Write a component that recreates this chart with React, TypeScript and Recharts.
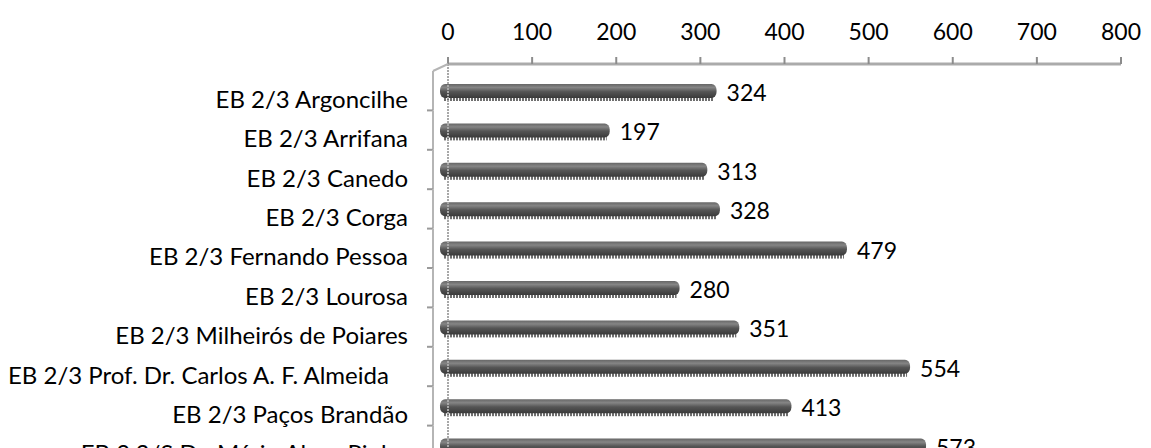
import { BarChart, Bar, XAxis, YAxis, LabelList } from "recharts";

const categories = [
  "EB 2/3 Argoncilhe",
  "EB 2/3 Arrifana",
  "EB 2/3 Canedo",
  "EB 2/3 Corga",
  "EB 2/3 Fernando Pessoa",
  "EB 2/3 Lourosa",
  "EB 2/3 Milheirós de Poiares",
  "EB 2/3 Prof. Dr. Carlos A. F. Almeida",
  "EB 2/3 Paços Brandão",
  "EB 2,3/S Dr. Mário Alves Pinho",
];
const values = [324, 197, 313, 328, 479, 280, 351, 554, 413, 573];
const xTicks = [0, 100, 200, 300, 400, 500, 600, 700, 800];

const data = categories.map((name, i) => ({ name, value: values[i] }));

const W = 1151;
const H = 480;
const PLOT_LEFT = 448;
const PLOT_TOP = 64;
const PLOT_H = H - PLOT_TOP - 22;
const BAND = PLOT_H / categories.length;
// offset of the front plane (3D look)
const DX = -8;
const DY = 7;
const FONT = "Lato, 'Open Sans', sans-serif";
const NUM_SIZE = 23;
const CAT_SIZE = 24;

function CylinderBar(props: any) {
  const { x, y, width, height } = props;
  if (!width || width <= 0) return null;
  const bx = x + DX;
  const by = y + DY;
  const bw = width + 4;
  return (
    <g>
      <rect x={bx + 3} y={by + height - 2} width={bw - 6} height={5} fill="url(#dotEdge)" />
      <rect x={bx} y={by} width={bw} height={height} rx={5} ry={6} fill="url(#barFill)" />
    </g>
  );
}

function ValueLabel(props: any) {
  const { x, y, width, height, value } = props;
  return (
    <text
      x={x + width + DX + 4 + 10}
      y={y + height / 2 + DY + 10}
      textAnchor="start"
      fontFamily={FONT}
      fontSize={NUM_SIZE}
      fill="#000"
    >
      {value}
    </text>
  );
}

function ValueTick(props: any) {
  const { x, payload } = props;
  return (
    <g>
      <line x1={x} x2={x} y1={PLOT_TOP - 7} y2={PLOT_TOP} stroke="#8c8c8c" strokeWidth={2} />
      <text x={x} y={40} textAnchor="middle" fontFamily={FONT} fontSize={NUM_SIZE} fill="#000">
        {payload.value}
      </text>
    </g>
  );
}

function CategoryTick(props: any) {
  const { y, payload, index } = props;
  const cy = y + DY;
  const label = String(payload.value);
  const wide = label.length > 32;
  const frontX = 433;
  return (
    <g>
      <line x1={frontX} x2={frontX} y1={cy - BAND / 2} y2={cy + BAND / 2} stroke="#b5b5b5" strokeWidth={2} />
      <line x1={frontX - 6} x2={frontX} y1={cy + BAND / 2} y2={cy + BAND / 2} stroke="#9a9a9a" strokeWidth={2} />
      {index === 0 && (
        <line x1={frontX} y1={cy - BAND / 2} x2={PLOT_LEFT} y2={PLOT_TOP} stroke="#b5b5b5" strokeWidth={2} />
      )}
      <text
        x={wide ? 8 : 408}
        y={cy + 17}
        textAnchor={wide ? "start" : "end"}
        fontFamily={FONT}
        fontSize={CAT_SIZE}
        fill="#000"
      >
        {label}
      </text>
    </g>
  );
}

export default function App() {
  return (
    <div
      style={{
        position: "fixed",
        top: 0,
        left: 0,
        width: W,
        height: 448,
        overflow: "hidden",
        background: "#fff",
      }}
    >
      <BarChart
        width={W}
        height={H}
        data={data}
        layout="vertical"
        margin={{ top: 0, right: 30, left: 0, bottom: 22 }}
      >
        <defs>
          <linearGradient id="barFill" x1="0" y1="0" x2="0" y2="1">
            <stop offset="0%" stopColor="#666" />
            <stop offset="25%" stopColor="#858585" />
            <stop offset="55%" stopColor="#555" />
            <stop offset="100%" stopColor="#3a3a3a" />
          </linearGradient>
          <pattern id="dotEdge" width="3" height="5" patternUnits="userSpaceOnUse">
            <rect x="0" y="0" width="3" height="5" fill="#fff" />
            <rect x="0" y="0" width="2" height="5" fill="#6e6e6e" />
          </pattern>
        </defs>
        <XAxis
          type="number"
          orientation="top"
          domain={[0, 800]}
          ticks={xTicks}
          interval={0}
          height={PLOT_TOP}
          tickLine={false}
          axisLine={{ stroke: "#ababab", strokeWidth: 3 }}
          tick={<ValueTick />}
        />
        <YAxis
          type="category"
          dataKey="name"
          width={PLOT_LEFT}
          tickLine={false}
          interval={0}
          axisLine={{ stroke: "#a8a8a8", strokeWidth: 2, strokeDasharray: "2 1" }}
          tick={<CategoryTick />}
        />
        <Bar dataKey="value" barSize={14} shape={<CylinderBar />} isAnimationActive={false}>
          <LabelList dataKey="value" content={<ValueLabel />} />
        </Bar>
      </BarChart>
    </div>
  );
}
